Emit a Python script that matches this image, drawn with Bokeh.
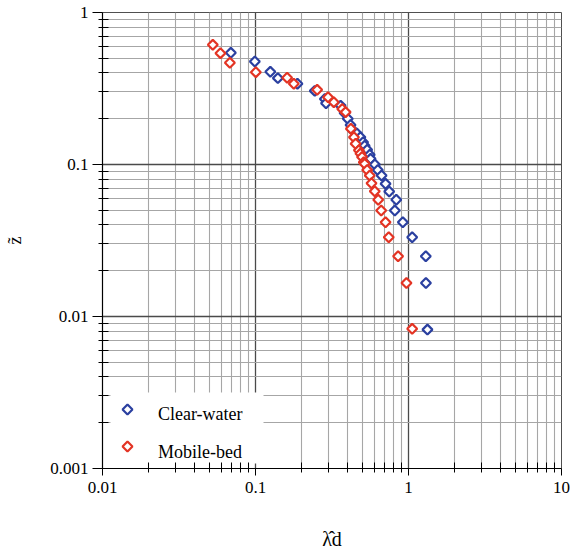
import math
from bokeh.plotting import figure
from bokeh.models import FixedTicker, Legend, LegendItem, BoxAnnotation
from bokeh.embed import file_html
from bokeh.resources import INLINE

# ---- data ----
clear_x = [0.069, 0.099, 0.125, 0.140, 0.188, 0.244, 0.284, 0.289, 0.360, 0.382,
           0.401, 0.418, 0.435, 0.460, 0.485, 0.505, 0.517, 0.537, 0.558, 0.565,
           0.603, 0.630, 0.667, 0.708, 0.748, 0.832, 0.814, 0.918, 1.057, 1.297,
           1.300, 1.330]
clear_y = [0.543, 0.476, 0.407, 0.370, 0.340, 0.305, 0.270, 0.253, 0.244, 0.218,
           0.200, 0.182, 0.167, 0.160, 0.151, 0.140, 0.133, 0.125, 0.116, 0.109,
           0.100, 0.092, 0.0847, 0.0746, 0.0664, 0.0586, 0.0498, 0.0417, 0.0332, 0.0249,
           0.0166, 0.0082]

mobile_x = [0.0526, 0.059, 0.068, 0.1005, 0.161, 0.178, 0.253, 0.298, 0.325, 0.369,
            0.388, 0.420, 0.440, 0.451, 0.474, 0.485, 0.497, 0.510, 0.517, 0.537,
            0.558, 0.573, 0.602, 0.634, 0.663, 0.708, 0.743, 0.855, 0.970, 1.057]
mobile_y = [0.613, 0.540, 0.467, 0.405, 0.372, 0.340, 0.310, 0.277, 0.257, 0.232,
            0.221, 0.172, 0.151, 0.137, 0.124, 0.118, 0.112, 0.1035, 0.101, 0.092,
            0.0847, 0.0753, 0.0667, 0.0586, 0.0498, 0.0417, 0.0332, 0.0249, 0.0166, 0.0083]

x_ticks = [0.01, 0.1, 1, 10]
x_tick_labels = ["0.01", "0.1", "1", "10"]
y_ticks = [0.001, 0.01, 0.1, 1]
y_tick_labels = ["0.001", "0.01", "0.1", "1"]

series_names = ["Clear-water", "Mobile-bed"]
series_colors = ["#2b40a0", "#e33424"]
SERIF = "Liberation Serif"

x_minor = [m * 10.0 ** e for e in (-2, -1, 0) for m in range(2, 10)]
y_minor = [m * 10.0 ** e for e in (-3, -2, -1) for m in range(2, 10)]

# layout constants (pixels)
W, H = 576, 554
BL, BR, BT, BB = 102, 15, 12, 86
FW, FH = W - BL - BR, H - BT - BB

p = figure(width=W, height=H, x_axis_type="log", y_axis_type="log",
           x_range=(x_ticks[0], x_ticks[-1]), y_range=(y_ticks[0], y_ticks[-1]),
           output_backend="svg", toolbar_location=None,
           min_border_left=BL, min_border_right=BR, min_border_top=BT, min_border_bottom=BB)
p.background_fill_color = "white"
p.border_fill_color = "white"
p.outline_line_color = "#505050"

p.xaxis.ticker = FixedTicker(ticks=x_ticks, minor_ticks=x_minor)
p.yaxis.ticker = FixedTicker(ticks=y_ticks, minor_ticks=y_minor)
p.xaxis.major_label_overrides = {t: l for t, l in zip(x_ticks, x_tick_labels)}
p.yaxis.major_label_overrides = {t: l for t, l in zip(y_ticks, y_tick_labels)}

for ax in (p.xaxis, p.yaxis):
    ax.axis_line_color = "black"
    ax.axis_line_width = 1.2
    ax.major_tick_line_color = "black"
    ax.minor_tick_line_color = "black"
    ax.major_tick_in = 0
    ax.minor_tick_out = 4
    ax.minor_tick_in = 6
    ax.major_label_text_font = SERIF
    ax.major_label_text_font_size = "17px"
    ax.major_label_text_color = "black"
    ax.axis_label_text_font = SERIF
    ax.axis_label_text_font_style = "normal"
    ax.axis_label_text_color = "black"
p.xaxis.major_tick_out = 7
p.yaxis.major_tick_out = 10
p.xaxis.major_label_standoff = 6
p.yaxis.major_label_standoff = 4

p.xaxis.axis_label = "λ\u0302d"
p.xaxis.axis_label_text_font_size = "20px"
p.xaxis.axis_label_standoff = 32
p.yaxis.axis_label = "z\u0303"
p.yaxis.axis_label_text_font_size = "18px"
p.yaxis.axis_label_standoff = 22

for g in (p.xgrid, p.ygrid):
    g.grid_line_color = "#4a4a4a"
    g.grid_line_width = 1.3
    g.minor_grid_line_color = "#a6a6a6"
    g.minor_grid_line_width = 1.1


def px_to_x(px):
    lo, hi = math.log10(x_ticks[0]), math.log10(x_ticks[-1])
    return 10 ** (lo + (hi - lo) * px / FW)


def py_to_y(py):  # py measured upward from the frame bottom
    lo, hi = math.log10(y_ticks[0]), math.log10(y_ticks[-1])
    return 10 ** (lo + (hi - lo) * py / FH)


# legend geometry
PAD, GW, GH, SP, LOC, LEG_W = 7, 20, 20, 17, (8, 5), 153
n_items = len(series_names)
leg_h = 2 * PAD + n_items * GH + (n_items - 1) * SP

# white legend panel, drawn over the grid but beneath the marks and axes
p.add_layout(BoxAnnotation(left=px_to_x(LOC[0]), right=px_to_x(LOC[0] + LEG_W),
                           bottom=py_to_y(LOC[1]), top=py_to_y(LOC[1] + leg_h),
                           fill_color="white", fill_alpha=1.0, line_color=None,
                           level="underlay"))

MSIZE, MLW = 7, 2.2
renderers = []
for xs, ys, col in ((clear_x, clear_y, series_colors[0]), (mobile_x, mobile_y, series_colors[1])):
    r = p.scatter(xs, ys, marker="square", angle=[math.pi / 4] * len(xs), angle_units="rad",
                  size=MSIZE, fill_color="white", line_color=col, line_width=MLW)
    renderers.append(r)

# legend keys: rotated squares (the Legend's own glyphs are drawn unrotated, so they are hidden)
key_px = LOC[0] + PAD + GW / 2
for i, col in enumerate(series_colors):
    key_py = LOC[1] + leg_h - PAD - GH / 2 - i * (GH + SP)
    p.scatter([px_to_x(key_px)], [py_to_y(key_py)], marker="square", angle=[math.pi / 4],
              angle_units="rad", size=MSIZE, fill_color="white", line_color=col,
              line_width=MLW)

dummies = [p.scatter([], [], marker="square", line_alpha=0, fill_alpha=0) for _ in series_names]
legend = Legend(items=[LegendItem(label=n, renderers=[d]) for n, d in zip(series_names, dummies)],
                location=LOC, border_line_color=None, background_fill_alpha=0.0,
                label_text_font=SERIF, label_text_font_size="18px", label_text_color="black",
                padding=PAD, glyph_width=GW, glyph_height=GH, label_height=GH,
                label_standoff=28, spacing=SP, margin=0)
p.add_layout(legend, "center")

open("out.html", "w").write(file_html(p, INLINE))
